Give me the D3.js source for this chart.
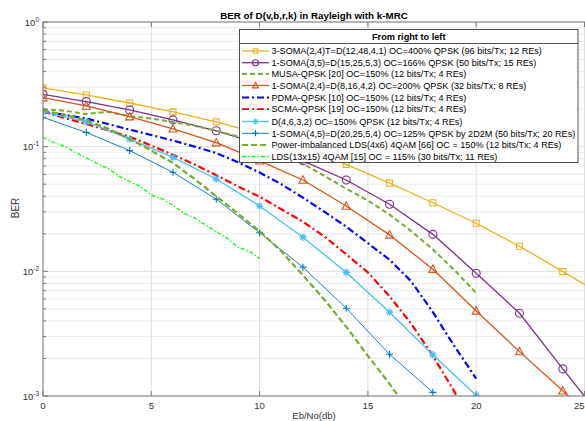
<!DOCTYPE html>
<html><head><meta charset="utf-8">
<script src="https://cdn.jsdelivr.net/npm/d3@7"></script>
<style>body{margin:0;background:#fff;overflow:hidden} svg{display:block;font-family:"Liberation Sans",Arial,sans-serif}</style>
</head><body><svg id="c" width="585" height="421"></svg>
<script>
// ---------- data ----------
const titleText = "BER of D(v,b,r,k) in Rayleigh with k-MRC";
const legendTitle = "From right to left";
const xLabel = "Eb/No(db)";
const yLabel = "BER";
const xTicks = [0, 5, 10, 15, 20, 25];
const yTickExps = [0, -1, -2, -3];

const seriesNames = [
  "3-SOMA(2,4)T=D(12,48,4,1) OC=400% QPSK (96 bits/Tx; 12 REs)",
  "1-SOMA(3,5)=D(15,25,5,3) OC=166% QPSK (50 bits/Tx; 15 REs)",
  "MUSA-QPSK [20] OC=150% (12 bits/Tx; 4 REs)",
  "1-SOMA(2,4)=D(8,16,4,2) OC=200% QPSK (32 bits/Tx; 8 REs)",
  "PDMA-QPSK [10] OC=150% (12 bits/Tx; 4 REs)",
  "SCMA-QPSK [19] OC=150% (12 bits/Tx; 4 REs)",
  "D(4,6,3,2) OC=150% QPSK (12 bits/Tx; 4 REs)",
  "1-SOMA(4,5)=D(20,25,5,4) OC=125% QPSK by 2D2M (50 bits/Tx; 20 REs)",
  "Power-imbalanced LDS(4x6) 4QAM [66] OC = 150% (12 bits/Tx; 4 REs)",
  "LDS(13x15) 4QAM [15] OC = 115% (30 bits/Tx; 11 REs)"
];

const soma3X = [0,2,4,6,8,10,12,14,16,18,20,22,24,26];
const soma3Y = [0.296,0.26,0.224,0.19,0.158,0.127,0.099,0.072,0.051,0.0355,0.0243,0.0159,0.00995,0.0062];

const soma35X = [0,2,4,6,8,10,12,14,16,18,20,22,24,26];
const soma35Y = [0.263,0.23,0.197,0.164,0.134,0.105,0.077,0.054,0.0345,0.0198,0.00966,0.00461,0.00165,0.0006];

const musaX = [0,1,2,3,4,5,6,7,8,9,10,11,12,13,14,15,16,17,18,19,20];
const musaY = [0.2,0.194,0.183,0.19,0.176,0.168,0.158,0.147,0.134,0.121,0.106,0.09,0.073,0.058,0.046,0.037,0.0285,0.021,0.015,0.0102,0.0067];

const soma24X = [0,2,4,6,8,10,12,14,16,18,20,22,24,26];
const soma24Y = [0.247,0.212,0.174,0.139,0.1077,0.077,0.054,0.0334,0.0196,0.0104,0.00481,0.00227,0.0011,0.00052];

const pdmaX = [0,1,2,3,4,5,6,7,8,9,10,11,12,13,14,15,16,17,18,19,20];
const pdmaY = [0.19,0.18,0.168,0.152,0.137,0.124,0.112,0.1,0.089,0.075,0.062,0.05,0.039,0.03,0.0228,0.0168,0.0124,0.0083,0.0047,0.0025,0.00138];

const scmaX = [0,1,2,3,4,5,6,7,8,9,10,11,12,13,14,15,16,17,18,19,19.5];
const scmaY = [0.19,0.17,0.152,0.135,0.12,0.102,0.086,0.072,0.059,0.048,0.0397,0.0315,0.025,0.019,0.0137,0.0098,0.0063,0.0038,0.0021,0.00108,0.0007];

const d4632X = [0,2,4,6,8,10,12,14,16,18,20];
const d4632Y = [0.19,0.158,0.115,0.082,0.055,0.0334,0.0188,0.0098,0.0047,0.00214,0.00101];

const soma45X = [0,2,4,6,8,10,12,14,16,18];
const soma45Y = [0.172,0.13,0.093,0.0623,0.0379,0.0204,0.0108,0.00506,0.00216,0.00107];

const pldsX = [0,1,2,3,4,5,6,7,8,9,10,11,12,13,14,15,16,16.5];
const pldsY = [0.195,0.18,0.162,0.14,0.115,0.093,0.074,0.055,0.04,0.029,0.021,0.0145,0.0093,0.0059,0.0036,0.0021,0.00125,0.00095];

const lds1315X = [0,0.5,1,1.5,2,2.5,3,3.5,4,4.5,5,5.5,6,6.5,7,7.5,8,8.5,9,9.5,10];
const lds1315Y = [0.119,0.108,0.1,0.09,0.0815,0.073,0.067,0.058,0.0525,0.0478,0.041,0.0382,0.034,0.0293,0.0268,0.0236,0.0207,0.0185,0.0156,0.0146,0.0127];

// ---------- styles ----------
const styles = [
  {color:"#EDB120", w:1.3, dash:null, marker:"square"},
  {color:"#7E2F8E", w:1.3, dash:null, marker:"circle"},
  {color:"#77AC30", w:2, dash:"5,3", marker:null},
  {color:"#D95319", w:1.3, dash:null, marker:"triangle"},
  {color:"#0000FF", w:2.2, dash:"7,3,2,3", marker:null},
  {color:"#FF0000", w:2.2, dash:"7,3,2,3", marker:null},
  {color:"#4DBEEE", w:1.3, dash:null, marker:"star"},
  {color:"#0072BD", w:0.9, dash:null, marker:"plus"},
  {color:"#77AC30", w:2.2, dash:"6,3", marker:null},
  {color:"#00FF00", w:1.3, dash:"4,2,1.5,2", marker:null}
];
const xsAll = [soma3X, soma35X, musaX, soma24X, pdmaX, scmaX, d4632X, soma45X, pldsX, lds1315X];
const ysAll = [soma3Y, soma35Y, musaY, soma24Y, pdmaY, scmaY, d4632Y, soma45Y, pldsY, lds1315Y];

// ---------- layout ----------
const L = 43, T = 22, R = 585 + 0.5, B = 396;
const svg = d3.select("#c");
const x = d3.scaleLinear().domain([0, 25]).range([L, 584.5]);
const y = d3.scaleLog().domain([1e-3, 1]).range([B, T]);
const axisColor = "#7a7a7a", textColor = "#333333";

// grid
const g = svg.append("g");
const minor = [];
for (let e = -3; e < 0; e++) for (let m = 2; m <= 9; m++) minor.push(m * Math.pow(10, e));
g.selectAll(".mg").data(minor).enter().append("line")
  .attr("x1", L).attr("x2", R).attr("y1", d => y(d)).attr("y2", d => y(d))
  .attr("stroke", "#ececec").attr("stroke-width", 1);
g.selectAll(".yg").data(yTickExps).enter().append("line")
  .attr("x1", L).attr("x2", R).attr("y1", d => y(Math.pow(10, d))).attr("y2", d => y(Math.pow(10, d)))
  .attr("stroke", "#dedede").attr("stroke-width", 1);
g.selectAll(".xg").data(xTicks).enter().append("line")
  .attr("x1", d => x(d)).attr("x2", d => x(d)).attr("y1", T).attr("y2", B)
  .attr("stroke", "#dedede").attr("stroke-width", 1);

// clip
svg.append("clipPath").attr("id", "clip").append("rect")
  .attr("x", L).attr("y", T).attr("width", R - L).attr("height", B - T);
const plot = svg.append("g").attr("clip-path", "url(#clip)");

function markerPath(type, s) {
  const h = s / 2;
  if (type === "square") return `M${-h},${-h}H${h}V${h}H${-h}Z`;
  if (type === "circle") return `M${-h},0A${h},${h} 0 1,0 ${h},0A${h},${h} 0 1,0 ${-h},0Z`;
  if (type === "triangle") return `M0,${-h*1.05}L${h},${h*0.8}L${-h},${h*0.8}Z`;
  if (type === "plus") return `M${-h},0H${h}M0,${-h}V${h}`;
  if (type === "star") { const k = h * 0.7; return `M${-h},0H${h}M0,${-h}V${h}M${-k},${-k}L${k},${k}M${-k},${k}L${k},${-k}`; }
  return "";
}
const msize = {square:6, circle:8, triangle:8, plus:7, star:7.5};

const line = d3.line().x(d => x(d[0])).y(d => y(d[1]));
styles.forEach((st, i) => {
  const pts = xsAll[i].map((v, j) => [v, ysAll[i][j]]);
  plot.append("path").datum(pts).attr("d", line)
    .attr("fill", "none").attr("stroke", st.color).attr("stroke-width", st.w)
    .attr("stroke-dasharray", st.dash).attr("stroke-linejoin", "round");
  if (st.marker) {
    plot.selectAll(null).data(pts).enter().append("path")
      .attr("transform", d => `translate(${x(d[0])},${y(d[1])})`)
      .attr("d", markerPath(st.marker, msize[st.marker]))
      .attr("fill", "none").attr("stroke", st.color).attr("stroke-width", st.marker === "star" ? 1.3 : 1.1);
  }
});

// axes lines
svg.append("line").attr("x1", L).attr("x2", L).attr("y1", T).attr("y2", B).attr("stroke", axisColor);
svg.append("line").attr("x1", L).attr("x2", R).attr("y1", B).attr("y2", B).attr("stroke", axisColor);
svg.append("line").attr("x1", L).attr("x2", R).attr("y1", T).attr("y2", T).attr("stroke", axisColor);
// x ticks
xTicks.forEach((t, i) => {
  const last = i === xTicks.length - 1;
  svg.append("line").attr("x1", x(t)).attr("x2", x(t)).attr("y1", B).attr("y2", B - 5).attr("stroke", axisColor);
  svg.append("line").attr("x1", x(t)).attr("x2", x(t)).attr("y1", T).attr("y2", T + 5).attr("stroke", axisColor);
  svg.append("text").attr("x", last ? 584.5 : x(t)).attr("y", 409).attr("text-anchor", last ? "end" : "middle")
    .attr("font-size", 9.5).attr("fill", textColor).text(t);
});
// y ticks
yTickExps.forEach(e => {
  const yy = y(Math.pow(10, e));
  svg.append("line").attr("x1", L).attr("x2", L + 5).attr("y1", yy).attr("y2", yy).attr("stroke", axisColor);
  const t = svg.append("text").attr("x", 39).attr("y", yy + 3.5).attr("text-anchor", "end")
    .attr("font-size", 9.5).attr("fill", textColor);
  t.append("tspan").text("10");
  t.append("tspan").attr("dy", -4).attr("font-size", 6.5).text(e);
});
minor.forEach(m => {
  svg.append("line").attr("x1", L).attr("x2", L + 3).attr("y1", y(m)).attr("y2", y(m)).attr("stroke", axisColor);
});

// labels
svg.append("text").attr("x", 314).attr("y", 18.5).attr("text-anchor", "middle")
  .attr("font-size", 9.8).attr("font-weight", "bold").attr("fill", "#000").text(titleText);
svg.append("text").attr("x", 314).attr("y", 418.5).attr("text-anchor", "middle")
  .attr("font-size", 9.5).attr("fill", textColor).text(xLabel);
svg.append("text").attr("transform", "translate(18.5,208) rotate(-90)").attr("text-anchor", "middle")
  .attr("font-size", 10).attr("fill", textColor).text(yLabel);

// legend
const lg = svg.append("g");
const lx0 = 239.5, ly0 = 29.5, lx1 = 578, ly1 = 162.5;
lg.append("rect").attr("x", lx0).attr("y", ly0).attr("width", lx1 - lx0).attr("height", ly1 - ly0)
  .attr("fill", "#fff").attr("stroke", "#262626").attr("stroke-width", 0.8);
lg.append("line").attr("x1", lx0).attr("x2", lx1).attr("y1", 43.5).attr("y2", 43.5).attr("stroke", "#262626").attr("stroke-width", 0.8);
lg.append("text").attr("x", (lx0 + lx1) / 2).attr("y", 39.5).attr("text-anchor", "middle")
  .attr("font-size", 9.2).attr("font-weight", "bold").attr("fill", "#000").text(legendTitle);
const rowY = [51, 62.7, 74, 85.5, 97.5, 109.2, 121.5, 133.3, 145, 156.5];
seriesNames.forEach((name, i) => {
  const st = styles[i], yy = rowY[i];
  lg.append("line").attr("x1", 242).attr("x2", 269).attr("y1", yy).attr("y2", yy)
    .attr("stroke", st.color).attr("stroke-width", Math.min(st.w, 1.8))
    .attr("stroke-dasharray", st.dash);
  if (st.marker) lg.append("path").attr("transform", `translate(255.5,${yy})`)
    .attr("d", markerPath(st.marker, st.marker === "square" ? 4.5 : 6)).attr("fill", "none")
    .attr("stroke", st.color).attr("stroke-width", 1.1);
  lg.append("text").attr("x", 271.5).attr("y", yy + 3.2).attr("font-size", 9.1).attr("fill", "#000").text(name);
});
</script></body></html>
